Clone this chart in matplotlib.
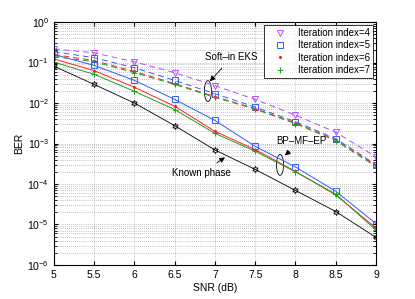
import numpy as np
import matplotlib.pyplot as plt
from matplotlib.patches import Ellipse

plt.rcParams['font.family'] = ['Liberation Sans', 'DejaVu Sans']

snr = [5, 5.5, 6, 6.5, 7, 7.5, 8, 8.5, 9]

# log10(BER)
# soft-in EKS (dashed)
eks4 = [-0.66, -0.76, -0.98, -1.25, -1.57, -1.91, -2.30, -2.72, -3.33]
eks5 = [-0.73, -0.88, -1.13, -1.44, -1.77, -2.10, -2.46, -2.88, -3.52]
eks6 = [-0.80, -0.95, -1.22, -1.52, -1.84, -2.14, -2.49, -2.91, -3.54]
eks7 = [-0.85, -0.98, -1.25, -1.54, -1.86, -2.15, -2.51, -2.93, -3.57]
# BP-MF-EP (solid)
bp5 = [-0.80, -1.07, -1.44, -1.91, -2.43, -3.07, -3.58, -4.18, -4.98]
bp6 = [-0.91, -1.20, -1.61, -2.08, -2.70, -3.15, -3.69, -4.27, -5.09]
bp7 = [-0.99, -1.29, -1.71, -2.16, -2.75, -3.19, -3.70, -4.25, -5.14]
# known phase
known = [-1.09, -1.54, -2.00, -2.56, -3.16, -3.64, -4.16, -4.68, -5.32]

labels = ['Iteration index=4', 'Iteration index=5', 'Iteration index=6', 'Iteration index=7']

c4 = '#b44dff'
c5 = '#2f5cff'
c6 = '#ff2020'
c7 = '#20a020'

fig = plt.figure(figsize=(4.15, 2.99), dpi=100)
ax = fig.add_axes([0.130, 0.114, 0.776, 0.812])

p = lambda v: 10 ** np.array(v)
dash = (6, 4)

ax.plot(snr, p(eks4), '--', dashes=dash, color=c4, lw=0.7, marker='v', ms=4.5, mfc='none', mew=0.7, label=labels[0])
ax.plot(snr, p(eks5), '--', dashes=dash, color=c5, lw=0.7, marker='s', ms=4, mfc='none', mew=0.7, label=labels[1])
ax.plot(snr, p(eks6), '--', dashes=dash, color=c6, lw=0.7, marker='.', ms=2.5, label=labels[2])
ax.plot(snr, p(eks7), '--', dashes=dash, color=c7, lw=0.7, marker='+', ms=4.5, mew=0.7, label=labels[3])

ax.plot(snr, p(bp5), '-', color=c5, lw=0.7, marker='s', ms=4, mfc='none', mew=0.7)
ax.plot(snr, p(bp6), '-', color=c6, lw=0.7, marker='.', ms=2.5)
ax.plot(snr, p(bp7), '-', color=c7, lw=0.7, marker='+', ms=4.5, mew=0.7)

ax.plot(snr, p(known), '-', color='k', lw=0.6, marker=(6, 1, 0), ms=4.5, mfc='none', mew=0.6)

ax.set_yscale('log')
ax.set_xlim(5, 9)
ax.set_ylim(1e-6, 1)
ax.set_xticks(np.arange(5, 9.01, 0.5))
ax.set_xticklabels(['5', '5.5', '6', '6.5', '7', '7.5', '8', '8.5', '9'])
ax.set_yticks([1e-6, 1e-5, 1e-4, 1e-3, 1e-2, 1e-1, 1e0])
ax.grid(True, which='major', ls=(0, (1, 2)), lw=0.5, color='#8c8c8c')
ax.grid(True, which='minor', axis='y', ls=(0, (1, 2)), lw=0.5, color='#8c8c8c')
ax.tick_params(which='both', direction='in', top=True, right=True, labelsize=7.5)
ax.tick_params(which='major', length=3)
ax.tick_params(which='minor', length=2)
for s in ax.spines.values():
    s.set_linewidth(0.8)

ax.set_xlabel('SNR (dB)', fontsize=7.5, labelpad=2)
ax.set_ylabel('BER', fontsize=7.5, labelpad=2)

leg = ax.legend(loc='upper right', fontsize=7, frameon=True, fancybox=False,
                edgecolor='k', handlelength=2.6, borderaxespad=0.3,
                labelspacing=0.25, borderpad=0.3, handletextpad=0.6)
leg.get_frame().set_linewidth(0.7)
for h in leg.get_lines():
    h.set_linestyle('none')

# annotations
ax.add_patch(Ellipse((0.478, 0.716), 0.022, 0.086, transform=ax.transAxes,
                     fill=False, ec='k', lw=0.6))
ax.annotate('Soft\u2013in EKS', xy=(0.484, 0.756), xytext=(0.552, 0.855),
            xycoords='axes fraction', textcoords='axes fraction',
            ha='center', va='center', fontsize=7,
            arrowprops=dict(arrowstyle='-|>', color='k', lw=0.6, mutation_scale=8,
                            shrinkA=3, shrinkB=0))

ax.add_patch(Ellipse((0.702, 0.412), 0.022, 0.086, transform=ax.transAxes,
                     fill=False, ec='k', lw=0.6))
ax.annotate('BP\u2013MF\u2013EP', xy=(0.717, 0.451), xytext=(0.769, 0.51),
            xycoords='axes fraction', textcoords='axes fraction',
            ha='center', va='center', fontsize=7,
            arrowprops=dict(arrowstyle='-|>', color='k', lw=0.6, mutation_scale=8,
                            shrinkA=3, shrinkB=0))

ax.annotate('Known phase', xy=(0.531, 0.443), xytext=(0.459, 0.379),
            xycoords='axes fraction', textcoords='axes fraction',
            ha='center', va='center', fontsize=7,
            arrowprops=dict(arrowstyle='-|>', color='k', lw=0.6, mutation_scale=8,
                            shrinkA=3, shrinkB=0))

fig.savefig('out.png', dpi=100)
